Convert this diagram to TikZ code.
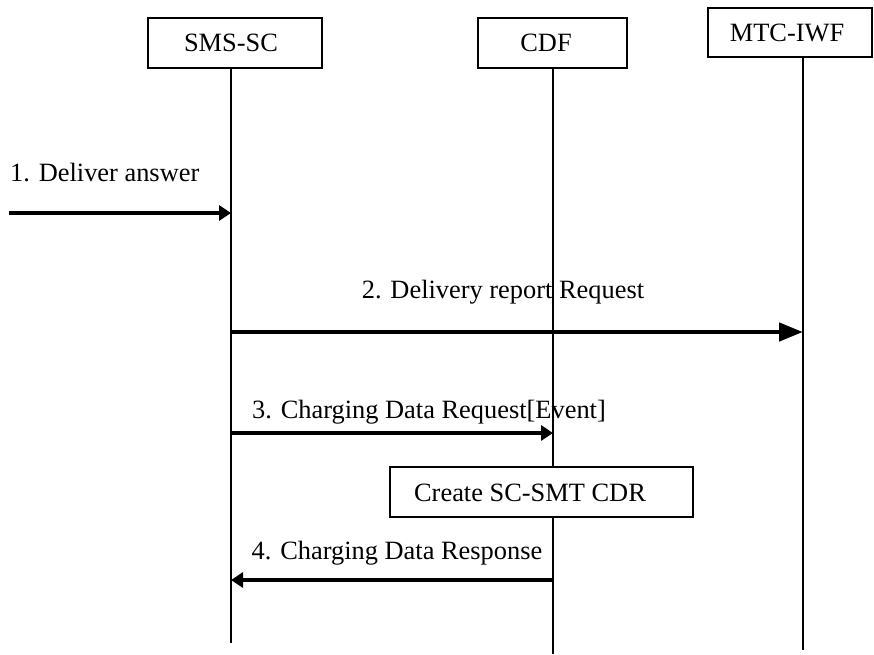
\documentclass[tikz,border=0pt]{standalone}
\usepackage{fontspec}
\setmainfont{Liberation Serif}
\usetikzlibrary{arrows.meta}
\begin{document}
\begin{tikzpicture}
      [x=1pt,y=-1pt
      ,every node/.style={font=\fontsize{26.4}{30}\selectfont,inner sep=0pt}
      ,ent/.style={draw,line width=1.8pt,minimum height=50pt}
      ,life/.style={line width=2pt}
      ,msg/.style={line width=4pt,-{Triangle[length=12pt,width=15pt]}}
      ]
        \useasboundingbox (0,0) rectangle (874,654);
        % entities
        \node[ent,minimum width=174pt] (smsc) at (235,43) {};
        \node (smsct) at (231,43) {SMS-SC};
        \node[ent,minimum width=149pt] (cdf) at (552.5,43) {};
        \node (cdft) at (546,43) {CDF};
        \node[ent,minimum width=164pt,minimum height=49pt] (mtc) at (790,32.5) {};
        \node (mtct) at (787,33) {MTC-IWF};
        % lifelines
        \coordinate (smscend) at (231,643);
        \coordinate (cdfend) at (553,654);
        \coordinate (mtcend) at (803,650);
        \draw[life] (smsc.south -| smscend) -- (smscend);
        \draw[life] (cdf.south -| cdfend) -- (cdfend);
        \draw[life] (mtc.south -| mtcend) -- (mtcend);
        % message points
        \coordinate (in1) at (9,213);
        \coordinate (s1) at (231,213);
        \coordinate (s2) at (231,332);
        \coordinate (m2) at (803,332);
        \coordinate (s3) at (231,433);
        \coordinate (c3) at (553,433);
        \coordinate (s4) at (231,580);
        \coordinate (c4) at (553,580);
        % messages
        \draw[msg] (in1) -- (s1);
        \node[anchor=west] (l1) at (10,173) {1. Deliver answer};
        \draw[msg,line width=4.5pt,-{Triangle[length=24pt,width=18pt]}] (s2) -- (m2);
        \node (l2) at (503,292) {2. Delivery report Request};
        \draw[msg] (s3) -- (c3);
        \node (l3) at (429,412) {3. Charging Data Request[Event]};
        \node[draw,line width=1.8pt,fill=white,minimum width=303pt,minimum height=50pt] (cdr) at (541.5,492) {};
        \node (cdrt) at (530,493) {Create SC-SMT CDR};
        \draw[msg] (c4) -- (s4);
        \node (l4) at (397,553) {4. Charging Data Response};
\end{tikzpicture}
\end{document}
